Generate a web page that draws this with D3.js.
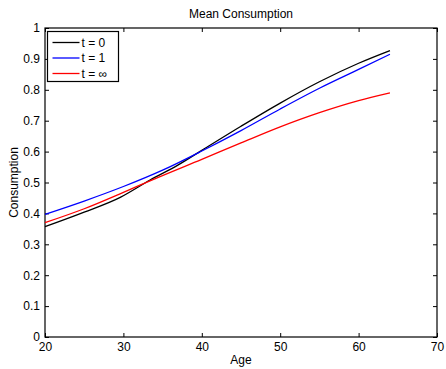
<!DOCTYPE html>
<html>
<head>
<meta charset="utf-8">
<script src="https://cdn.jsdelivr.net/npm/d3@7"></script>
<style>
  body { margin: 0; background: #fff; }
  text { font-family: "Liberation Sans", Arial, sans-serif; }
</style>
</head>
<body>
<div id="chart"></div>
<script>
var svgWidth = 446;
var svgHeight = 369;

var margin = { top: 28, right: 9, bottom: 32, left: 45 };
var width = svgWidth - margin.left - margin.right;
var height = svgHeight - margin.top - margin.bottom;

// data
var ages0 = [20, 25, 29.6, 33.4, 37, 40, 45, 50, 55, 60, 64];
var cons0 = [0.357, 0.404, 0.452, 0.508, 0.557, 0.604, 0.682, 0.757, 0.826, 0.886, 0.927];

var ages1 = [20, 25, 30, 35, 40, 45, 50, 55, 60, 64];
var cons1 = [0.397, 0.440, 0.487, 0.540, 0.602, 0.668, 0.738, 0.805, 0.866, 0.915];

var agesInf = [20, 25, 30, 34, 40, 45, 50, 55, 60, 64];
var consInf = [0.370, 0.415, 0.468, 0.512, 0.575, 0.628, 0.680, 0.726, 0.765, 0.790];

var seriesNames = ["t = 0", "t = 1", "t = \u221e"];
var seriesColors = ["#000000", "#0000ff", "#ff0000"];
var xTicks = [20, 30, 40, 50, 60, 70];
var yTicks = [0, 0.1, 0.2, 0.3, 0.4, 0.5, 0.6, 0.7, 0.8, 0.9, 1];

var series = [
  ages0.map((a, i) => ({ age: a, c: cons0[i] })),
  ages1.map((a, i) => ({ age: a, c: cons1[i] })),
  agesInf.map((a, i) => ({ age: a, c: consInf[i] }))
];

var svg = d3.select("#chart")
  .append("svg")
  .attr("width", svgWidth)
  .attr("height", svgHeight);

var chartGroup = svg.append("g")
  .attr("transform", `translate(${margin.left}, ${margin.top})`);

var x = d3.scaleLinear().domain([20, 70]).range([0, width]);
var y = d3.scaleLinear().domain([0, 1]).range([height, 0]);

function styleAxis(g) {
  g.select(".domain").remove();
  g.selectAll(".tick line").attr("stroke", "#000");
  g.selectAll("text").attr("fill", "#000").style("font-size", "12px");
}

// bottom / left with labels, ticks pointing inward
chartGroup.append("g")
  .attr("transform", `translate(0, ${height})`)
  .call(d3.axisBottom(x).tickValues(xTicks).tickSizeInner(-4).tickSizeOuter(0).tickPadding(5).tickFormat(d3.format("d")))
  .call(styleAxis);

chartGroup.append("g")
  .call(d3.axisLeft(y).tickValues(yTicks).tickSizeInner(-4).tickSizeOuter(0).tickPadding(5).tickFormat(d => d === 0 || d === 1 ? d : d3.format(".1f")(d)))
  .call(styleAxis);

// top / right mirror ticks
chartGroup.append("g")
  .call(d3.axisTop(x).tickValues(xTicks).tickSizeInner(-4).tickSizeOuter(0).tickFormat(""))
  .call(styleAxis);

chartGroup.append("g")
  .attr("transform", `translate(${width}, 0)`)
  .call(d3.axisRight(y).tickValues(yTicks).tickSizeInner(-4).tickSizeOuter(0).tickFormat(""))
  .call(styleAxis);

// box
chartGroup.append("rect")
  .attr("width", width)
  .attr("height", height)
  .attr("fill", "none")
  .attr("stroke", "#000")
  .attr("stroke-width", 1.2);

var line = d3.line()
  .x(d => x(d.age))
  .y(d => y(d.c))
  .curve(d3.curveMonotoneX);

chartGroup.selectAll(".series")
  .data(series)
  .enter()
  .append("path")
  .attr("class", "series")
  .attr("d", line)
  .attr("fill", "none")
  .attr("stroke", (d, i) => seriesColors[i])
  .attr("stroke-width", 1.3);

// legend
var legend = chartGroup.append("g")
  .attr("transform", "translate(2.5, 3.5)");

legend.append("rect")
  .attr("width", 71)
  .attr("height", 50)
  .attr("fill", "#fff")
  .attr("stroke", "#000")
  .attr("stroke-width", 1.2);

seriesNames.forEach(function(name, i) {
  var yy = 11 + i * 15.5;
  legend.append("line")
    .attr("x1", 5).attr("x2", 32)
    .attr("y1", yy).attr("y2", yy)
    .attr("stroke", seriesColors[i])
    .attr("stroke-width", 1.3);
  legend.append("text")
    .attr("x", 34)
    .attr("y", yy + 4)
    .style("font-size", "12px")
    .text(name);
});

// labels
svg.append("text")
  .attr("x", margin.left + width / 2)
  .attr("y", 18)
  .attr("text-anchor", "middle")
  .style("font-size", "12px")
  .text("Mean Consumption");

svg.append("text")
  .attr("x", margin.left + width / 2)
  .attr("y", 364)
  .attr("text-anchor", "middle")
  .style("font-size", "12px")
  .text("Age");

svg.append("text")
  .attr("transform", `translate(18, ${margin.top + height / 2}) rotate(-90)`)
  .attr("text-anchor", "middle")
  .style("font-size", "12px")
  .text("Consumption");
</script>
</body>
</html>
